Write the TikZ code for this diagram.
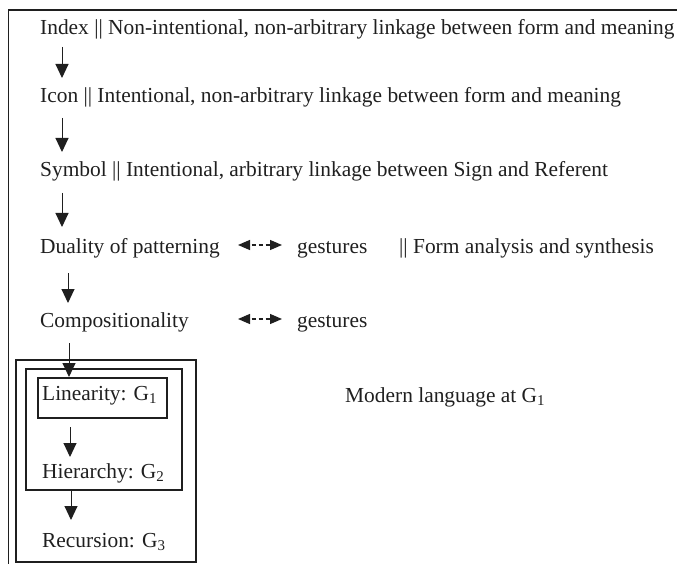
\documentclass[tikz,border=0pt]{standalone}
\usepackage{fontspec}
\setmainfont{Liberation Serif}
\usetikzlibrary{arrows.meta,calc}
\begin{document}
\begin{tikzpicture}[x=1pt,y=-1pt,
  txt/.style={anchor=base west,inner sep=0pt,text=black!88,font=\fontsize{21.4}{24}\selectfont},
  flow/.style={line width=1pt,draw=black!88,-{Triangle[width=13pt,length=14pt]}},
  dbl/.style={line width=1.3pt,draw=black!88,dash pattern=on 4pt off 3pt,dash phase=-2pt,{Triangle[width=10pt,length=12pt]}-{Triangle[width=10pt,length=12pt]}},
  gbox/.style={draw=black!88,line width=2pt,inner sep=0pt}]
\clip (0,0) rectangle (677,564);
% outer frame (cut off at right and bottom)
\draw[line width=1.4pt,black!88] (8.5,10) rectangle (720,620);
% texts
\node[txt] (idx)  at (40,35)  {Index || Non-intentional, non-arbitrary linkage between form and meaning};
\node[txt] (icon) at (40,103) {Icon || Intentional, non-arbitrary linkage between form and meaning};
\node[txt] (sym)  at (40,177) {Symbol || Intentional, arbitrary linkage between Sign and Referent};
\node[txt] (dual) at (40,253) {Duality of patterning};
\node[txt] (ges1) at (297,253) {gestures};
\node[txt] (form) at (399,253) {|| Form analysis and synthesis};
\node[txt] (comp) at (40,327) {Compositionality};
\node[txt] (ges2) at (297,327) {gestures};
\node[txt] (lin)  at (42,400) {Linearity: G\textsubscript{1}};
\node[txt] (hier) at (42,478) {Hierarchy: G\textsubscript{2}};
\node[txt] (rec)  at (42,547) {Recursion: G\textsubscript{3}};
\node[txt] (mod)  at (345,402) {Modern language at G\textsubscript{1}};
% nested boxes
\node[gbox,minimum width=180pt,minimum height=202pt] (b3) at (106,461) {};
\node[gbox,minimum width=156pt,minimum height=121pt] (b2) at (104,429.5) {};
\node[gbox,minimum width=129pt,minimum height=40pt]  (b1) at (102.5,398) {};
% flow arrows
\draw[flow] ([shift={(22,12)}]idx.base west) -- ([shift={(22,-25)}]icon.base west);
\draw[flow] ([shift={(22,15)}]icon.base west) -- ([shift={(22,-25)}]sym.base west);
\draw[flow] ([shift={(22,16)}]sym.base west) -- ([shift={(22,-26)}]dual.base west);
\draw[flow] ([shift={(28,20)}]dual.base west) -- ([shift={(28,-24)}]comp.base west);
\draw[flow] ([shift={(29,16)}]comp.base west) -- (b1.north -| {$(comp.base west)+(29,0)$});
\draw[flow] ([shift={(28,27)}]lin.base west) -- ([shift={(28,-21)}]hier.base west);
\draw[flow] (b2.south -| {$(hier.base west)+(29,0)$}) -- ([shift={(29,-27)}]rec.base west);
% double dashed arrows
\draw[dbl] ([shift={(-59,-8)}]ges1.base west) -- ([shift={(-15,-8)}]ges1.base west);
\draw[dbl] ([shift={(-59,-8)}]ges2.base west) -- ([shift={(-15,-8)}]ges2.base west);
\end{tikzpicture}
\end{document}
